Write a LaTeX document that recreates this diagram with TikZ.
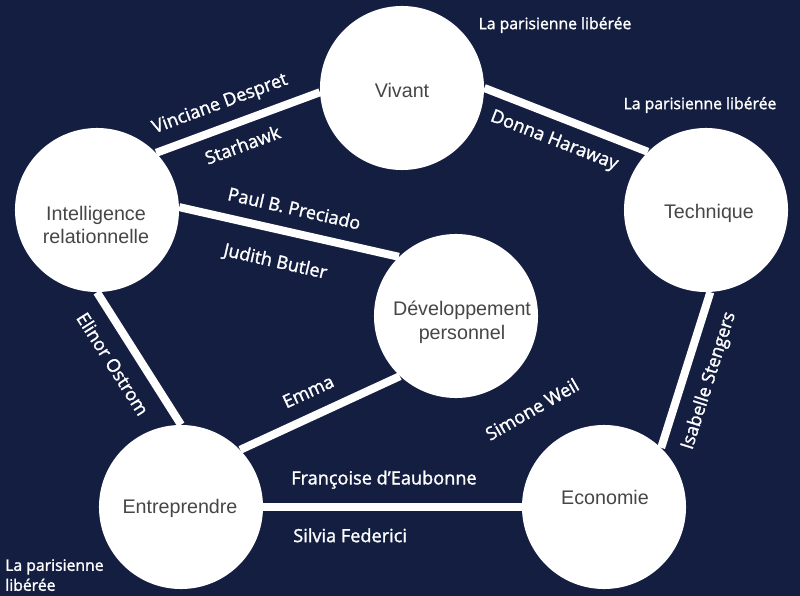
\documentclass[tikz,border=0pt]{standalone}
\usepackage{fontspec}
\setmainfont{Open Sans}
\newfontfamily\nomfont[FakeBold=1.5]{Open Sans}
\newfontfamily\cerclefont{Liberation Sans}
\definecolor{fond}{RGB}{20,30,65}
\definecolor{gris}{RGB}{70,70,70}
\begin{document}
\begin{tikzpicture}[x=0.025cm, y=-0.025cm,
	main/.style = {circle, fill=white, minimum size=4.1cm, inner sep=0pt},
	mot/.style = {text=gris, align=center, font=\cerclefont\fontsize{14}{17}\selectfont},
	lien/.style = {white, line width=5.7pt},
	nom/.style = {text=white, inner sep=0pt, text height=1.5ex, text depth=.25ex, font=\nomfont\fontsize{12.9}{15}\selectfont},
	signe/.style = {text=white, inner sep=0pt, align=left, font=\nomfont\fontsize{11.2}{14.2}\selectfont}]
	\fill[fond] (0,0) rectangle (800,596);
	% Cercles
	\node[main] (vivant) at (402,88) {};
	\node[main] (tech) at (706,210) {};
	\node[main] (intel) at (97,210) {};
	\node[main] (dev) at (456,316) {};
	\node[main] (entr) at (181,507) {};
	\node[main] (eco) at (604,507) {};
	% Textes des cercles
	\node[mot] (vivant-t) at (402,90) {Vivant};
	\node[mot] (tech-t) at (709,213) {Technique};
	\node[mot] (intel-t) at (96,225) {Intelligence\\relationnelle};
	\node[mot] (dev-t) at (462,322) {Développement\\personnel};
	\node[mot] (entr-t) at (180,508) {Entreprendre};
	\node[mot] (eco-t) at (605,497) {Economie};
	% Liens
	\draw[lien] (intel.44) -- node[nom, pos=.44, sloped, above=9.1pt] (despret) {Vinciane Despret}
		node[nom, pos=.48, sloped, below=9.9pt] (starhawk) {Starhawk} (vivant.183);	% IV
	\draw[lien] (vivant.0) -- node[nom, pos=.48, sloped, below=9.4pt] (haraway) {Donna Haraway} (tech.135);	% VT
	\draw[lien] (intel.2) -- node[nom, pos=.5, sloped, above=8.3pt] (preciado) {Paul B. Preciado}
		node[nom, pos=.47, sloped, below=15.9pt] (butler) {Judith Butler} (dev.134);	% ID
	\draw[lien] (intel.south) -- node[nom, pos=.44, sloped, below=11.6pt] (ostrom) {Elinor Ostrom} (entr.north);	% IE
	\draw[lien] (entr.44) -- node[nom, pos=.49, sloped, above=8.7pt] (emma) {Emma} (dev.227);	% ED
	\draw[lien] (entr.east) -- node[nom, pos=.467, above=11.9pt] (eaubonne) {Françoise d’Eaubonne}
		node[nom, pos=.336, below=14.1pt] (federici) {Silvia Federici} (eco.west);	% EE
	\draw[lien] (eco.46) -- node[nom, pos=.48, sloped, below=10.7pt] (stengers) {Isabelle Stengers} (tech.273);	% ET
	% Autres textes
	\node[nom, rotate=30] (weil) at (533,411) {Simone Weil};
	\node[signe] (lpl1) at (555,25) {La parisienne libérée};
	\node[signe] (lpl2) at (700,105) {La parisienne libérée};
	\node[signe, anchor=north west] (lpl3) at (5,559) {La parisienne\\libérée};
\end{tikzpicture}
\end{document}
